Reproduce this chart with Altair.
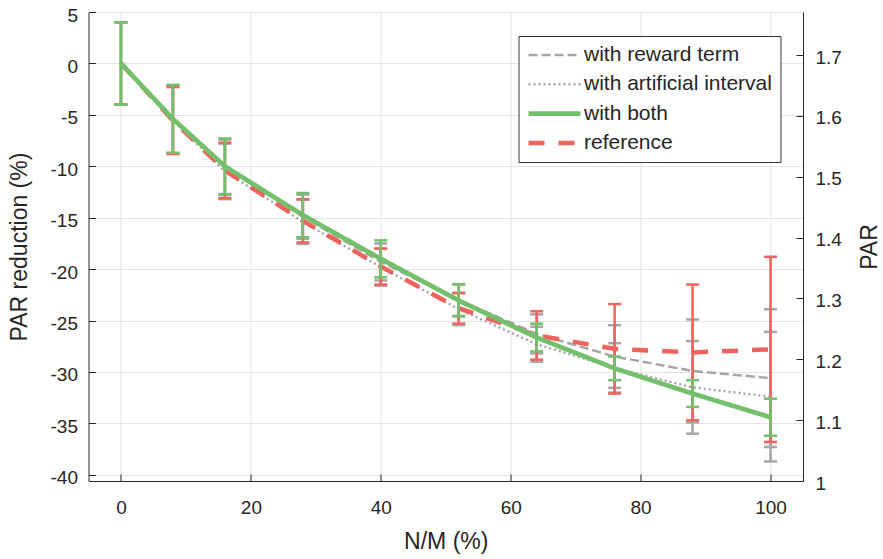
import altair as alt
import pandas as pd

# ---------------- data ----------------
x_vals = [0, 8, 16, 28, 40, 52, 64, 76, 88, 100]

reward_mean = [0, -5.4, -10.1, -14.9, -19.3, -23.0, -26.3, -28.5, -29.9, -30.6]
reward_err = [4.0, 3.3, 2.7, 2.15, 1.8, 1.55, 1.9, 3.05, 5.0, 6.7]

artificial_mean = [0, -5.5, -10.5, -15.4, -19.8, -23.9, -27.3, -29.6, -31.5, -32.4]
artificial_err = [4.0, 3.3, 2.7, 2.15, 1.8, 1.55, 1.7, 2.4, 4.5, 6.3]

both_mean = [0, -5.4, -10.0, -14.75, -19.0, -23.05, -26.65, -29.65, -32.1, -34.4]
both_err = [4.0, 3.3, 2.7, 2.15, 1.8, 1.55, 1.35, 1.15, 1.3, 1.8]

ref_mean = [0, -5.55, -10.4, -15.3, -19.75, -23.8, -26.45, -27.75, -28.1, -27.8]
ref_err = [4.0, 3.25, 2.7, 2.1, 1.75, 1.5, 2.35, 4.35, 6.6, 9.0]

series_names = ["with reward term", "with artificial interval", "with both", "reference"]
x_ticks = [0, 20, 40, 60, 80, 100]
left_ticks = [-40, -35, -30, -25, -20, -15, -10, -5, 0, 5]
par_ticks = [1, 1.1, 1.2, 1.3, 1.4, 1.5, 1.6, 1.7]

# ---------------- styles ----------------
colors = ["#A5A5AA", "#A5A5AA", "#74BF6B", "#F0625C"]
dashes = [[9, 4], [2, 3], [1, 0], [16, 14]]
widths = [2.5, 2.5, 4.7, 4.5]
AX = "#262626"
GRID = "#E3E3E3"
FONT = "Liberation Sans"

rows = []
for name, means, errs in zip(series_names,
                             [reward_mean, artificial_mean, both_mean, ref_mean],
                             [reward_err, artificial_err, both_err, ref_err]):
    for x, m, e in zip(x_vals, means, errs):
        rows.append({"series": name, "x": x, "y": m, "lo": m - e, "hi": m + e})
df = pd.DataFrame(rows)

XS = alt.Scale(domain=[-5, 105], nice=False, zero=False)
YS = alt.Scale(domain=[-40.6, 5], nice=False, zero=False)
PS = alt.Scale(domain=[1.0, 1.7707], nice=False, zero=False)

legend = alt.Legend(
    orient="none", legendX=430, legendY=24, title=None,
    symbolType="M-5.2,0L5.2,0", symbolSize=100, symbolOffset=17,
    labelFontSize=21, labelFont=FONT, labelColor=AX, labelLimit=400,
    fillColor="white", strokeColor="#333333", padding=8.5,
    rowPadding=7.3, labelOffset=19, cornerRadius=0,
)
color = alt.Color("series:N", scale=alt.Scale(domain=series_names, range=colors), legend=legend)
dash = alt.StrokeDash("series:N", scale=alt.Scale(type="ordinal", domain=series_names, range=dashes),
                      legend=legend)
sw = alt.StrokeWidth("series:N", scale=alt.Scale(type="ordinal", domain=series_names, range=widths),
                     legend=legend)

layers = []
draw_order = ["with reward term", "with artificial interval", "reference", "with both"]
for s in draw_order:
    base = alt.Chart(df).transform_filter(alt.datum.series == s)
    X = alt.X("x:Q", scale=XS, axis=None)
    bars = base.mark_rule(strokeWidth=2.5).encode(
        x=X, y=alt.Y("lo:Q", scale=YS, axis=None), y2="hi:Q", color=color,
    )
    cap_lo = base.mark_tick(orient="horizontal", size=13, thickness=2.5, opacity=1).encode(
        x=X, y=alt.Y("lo:Q", scale=YS, axis=None), color=color,
    )
    cap_hi = base.mark_tick(orient="horizontal", size=13, thickness=2.5, opacity=1).encode(
        x=X, y=alt.Y("hi:Q", scale=YS, axis=None), color=color,
    )
    line = base.mark_line(strokeCap="butt").encode(
        x=X, y=alt.Y("y:Q", scale=YS, axis=None),
        color=color, strokeDash=dash, strokeWidth=sw,
    )
    layers += [bars, cap_lo, cap_hi, line]

data_layer = alt.layer(*layers)

tick_common = dict(labels=False, domain=False, grid=False, title=None, tickSize=7,
                   tickColor=AX, tickWidth=1, offset=-7)

x_df = pd.DataFrame({"v": x_ticks})
l_df = pd.DataFrame({"v": left_ticks})
p_df = pd.DataFrame({"p": par_ticks})

x_label_layer = alt.Chart(x_df).mark_point(opacity=0).encode(
    x=alt.X("v:Q", scale=XS, axis=alt.Axis(
        orient="bottom", values=x_ticks, title="N/M (%)", grid=True, gridColor=GRID,
        ticks=False, tickSize=0, domainColor=AX, labelPadding=17, titlePadding=13,
    ))
)
y_label_layer = alt.Chart(l_df).mark_point(opacity=0).encode(
    y=alt.Y("v:Q", scale=YS, axis=alt.Axis(
        orient="left", values=left_ticks, title="PAR reduction (%)", grid=True, gridColor=GRID,
        ticks=False, tickSize=0, domainColor=AX, labelPadding=11, titlePadding=19,
        labelExpr="'' + datum.value", labelOffset=3,
    ))
)
left_tick_layer = alt.Chart(l_df).mark_point(opacity=0).encode(
    y=alt.Y("v:Q", scale=YS, axis=alt.Axis(orient="left", values=left_ticks, **tick_common))
)
bottom_tick_layer = alt.Chart(x_df).mark_point(opacity=0).encode(
    x=alt.X("v:Q", scale=XS, axis=alt.Axis(orient="bottom", values=x_ticks, **tick_common))
)
right_label_layer = alt.Chart(p_df).mark_point(opacity=0).encode(
    y=alt.Y("p:Q", scale=PS, axis=alt.Axis(
        orient="right", values=par_ticks, title="PAR", ticks=False, tickSize=0, grid=False,
        domainColor=AX, labelPadding=12, titlePadding=17, titleAngle=270, titleBaseline="top",
        labelExpr="'' + datum.value", labelOffset=2,
    ))
)
right_tick_layer = alt.Chart(p_df).mark_point(opacity=0).encode(
    y=alt.Y("p:Q", scale=PS, axis=alt.Axis(orient="right", values=par_ticks, **tick_common))
)

chart = alt.layer(
    x_label_layer, y_label_layer, data_layer,
    left_tick_layer, bottom_tick_layer, right_label_layer, right_tick_layer,
).resolve_scale(y="independent").resolve_axis(x="independent", y="independent").properties(
    width=714.5, height=469,
    padding={"left": 88.5, "top": 12, "right": 80, "bottom": 78},
    autosize=alt.AutoSizeParams(type="none"),
).configure_view(stroke=None).configure_axis(
    labelFont=FONT, labelFontSize=19, labelColor=AX,
    titleFont=FONT, titleFontSize=23, titleFontWeight="normal", titleColor=AX,
)

chart.save("out.html", embed_options={"renderer": "svg", "actions": False})
